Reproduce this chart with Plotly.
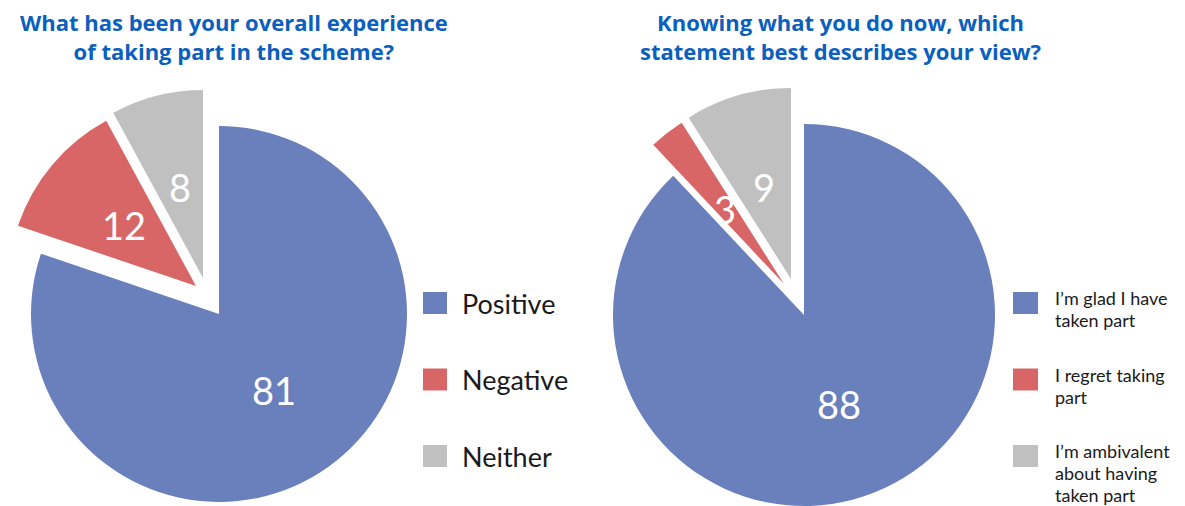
import math
import plotly.graph_objects as go

W, H = 1185, 506

# ---------------- data ----------------
left_title = "What has been your overall experience<br>of taking part in the scheme?"
left_labels = ["Positive", "Negative", "Neither"]
left_values = [81, 12, 8]

right_title = "Knowing what you do now, which<br>statement best describes your view?"
right_labels = ["I’m glad I have<br>taken part", "I regret taking<br>part",
                "I’m ambivalent<br>about having<br>taken part"]
right_values = [88, 3, 9]

slice_colors = ["#6A80BC", "#D96666", "#C0C0C0"]

# ---------------- layout settings (paper pixels) ----------------
charts = [
    dict(title=left_title, labels=left_labels, values=left_values,
         cx=211, cy=306, r=188, explode=[(0, 0), (-23, -28), (-16, -36)],
         title_x=226, leg_x=415, leg_w=24, leg_h=22, txt_x=452, leg_font=27,
         multiline=False),
    dict(title=right_title, labels=right_labels, values=right_values,
         cx=796, cy=307, r=191, explode=[(0, 0), (-20, -31), (-13, -36)],
         title_x=832, leg_x=1005, leg_w=25, leg_h=22, txt_x=1045, leg_font=18,
         multiline=True),
]
leg_y0, leg_step = 295, 76.5
LINE_PX = 22  # distance between wrapped legend lines
FONT = "Lato"
TITLE_FONT = "Open Sans"
TITLE_COLOR = "#0B5FBE"
TEXT_COLOR = "#1A1A1A"
TRANSPARENT = "rgba(0,0,0,0)"

fig = go.Figure()
annotations = []
shapes = []


def px_x(x):
    return x / W


def px_y(y):
    return 1 - y / H


for ch in charts:
    vals = ch["values"]
    total = float(sum(vals))
    r = ch["r"]
    start = 0.0
    for i, v in enumerate(vals):
        dx, dy = ch["explode"][i]
        cx, cy = ch["cx"] + dx, ch["cy"] + dy
        cols = [slice_colors[j] if j == i else TRANSPARENT for j in range(len(vals))]
        fig.add_trace(go.Pie(
            values=vals,
            labels=[str(k) for k in range(len(vals))],
            marker=dict(colors=cols, line=dict(width=0)),
            sort=False, direction="clockwise", rotation=0,
            textinfo="none", hoverinfo="skip", showlegend=False,
            domain=dict(x=[max(0, (cx - r) / W), min(1, (cx + r) / W)],
                        y=[max(0, 1 - (cy + r) / H), min(1, 1 - (cy - r) / H)]),
        ))
        # value label at half radius along the slice's mid-angle
        mid = math.radians((start + v / 2) / total * 360)
        lx = cx + 0.5 * r * math.sin(mid)
        ly = cy - 0.5 * r * math.cos(mid)
        annotations.append(dict(
            x=px_x(lx), y=px_y(ly), xref="paper", yref="paper",
            text=str(v), showarrow=False, xanchor="center", yanchor="middle",
            font=dict(family=FONT, size=38, color="white")))
        start += v

    # title
    annotations.append(dict(
        x=px_x(ch["title_x"]), y=px_y(28), xref="paper", yref="paper",
        text="<b>" + ch["title"] + "</b>", showarrow=False,
        xanchor="center", yanchor="middle", align="center",
        font=dict(family=TITLE_FONT, size=22, color=TITLE_COLOR)))

    # legend
    for i, lab in enumerate(ch["labels"]):
        yc = leg_y0 + i * leg_step
        shapes.append(dict(
            type="rect", xref="paper", yref="paper",
            x0=px_x(ch["leg_x"]), x1=px_x(ch["leg_x"] + ch["leg_w"]),
            y0=px_y(yc - ch["leg_h"] / 2), y1=px_y(yc + ch["leg_h"] / 2),
            fillcolor=slice_colors[i], line=dict(width=0)))
        if ch["multiline"]:
            fs = ch["leg_font"]
            txt = "<br>".join(
                "<span style='font-size:%dpx'>%s</span>" % (fs, part)
                for part in lab.split("<br>"))
            annotations.append(dict(
                x=px_x(ch["txt_x"]), y=px_y(yc - ch["leg_h"] / 2 - 7),
                xref="paper", yref="paper", text=txt, showarrow=False,
                xanchor="left", yanchor="top", align="left",
                font=dict(family=FONT, size=LINE_PX / 1.3, color=TEXT_COLOR)))
        else:
            annotations.append(dict(
                x=px_x(ch["txt_x"]), y=px_y(yc),
                xref="paper", yref="paper", text=lab, showarrow=False,
                xanchor="left", yanchor="middle", align="left",
                font=dict(family=FONT, size=ch["leg_font"], color=TEXT_COLOR)))

fig.update_layout(
    width=W, height=H,
    margin=dict(l=0, r=0, t=0, b=0),
    paper_bgcolor="white", plot_bgcolor="white",
    annotations=annotations, shapes=shapes,
    showlegend=False,
)

fig.write_html("out.html")
